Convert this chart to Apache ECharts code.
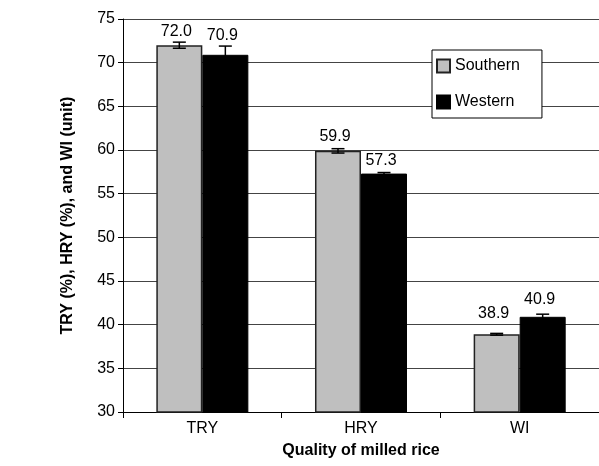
<!DOCTYPE html>
<html>
<head>
<meta charset="utf-8">
<script src="https://cdn.jsdelivr.net/npm/echarts@6/dist/echarts.min.js"></script>
<style>
html,body{margin:0;padding:0;background:#fff;}
#chart{width:599px;height:466px;}
</style>
</head>
<body>
<div id="chart"></div>
<script>
var categories = ['TRY', 'HRY', 'WI'];
var seriesNames = ['Southern', 'Western'];
var southern = [72.0, 59.9, 38.9];
var western = [70.9, 57.3, 40.9];
var southernErr = [0.35, 0.25, 0.1];
var westernErr = [1.0, 0.12, 0.3];
var yTicks = [30, 35, 40, 45, 50, 55, 60, 65, 70, 75];

var FONT = 'Liberation Sans, Arial, Helvetica, sans-serif';
var CAT_GAP = 0.42;
// label lift (px above error-bar top), styling per series
var LABEL_LIFT = { '-1': [3, 4, 12], '1': [2, 4, 7] };

function errData(vals, errs) {
  return vals.map(function (v, i) { return [i, v, errs[i]]; });
}

function makeErrRender(side) {
  return function (params, api) {
    var idx = api.value(0), v = api.value(1), e = api.value(2);
    var catW = api.size([1, 0])[0];
    var barW = catW * (1 - CAT_GAP) / 2;
    var base = api.coord([idx, v]);
    var x = base[0] + side * barW / 2;
    var top = api.coord([idx, v + e])[1];
    var bot = api.coord([idx, v - e])[1];
    var cap = 6.5;
    var st = { stroke: '#000', lineWidth: 1.5 };
    var lift = LABEL_LIFT[String(side)][params.dataIndex];
    return {
      type: 'group',
      children: [
        { type: 'line', shape: { x1: x, y1: top, x2: x, y2: bot }, style: st },
        { type: 'line', shape: { x1: x - cap, y1: top, x2: x + cap, y2: top }, style: st },
        { type: 'line', shape: { x1: x - cap, y1: bot, x2: x + cap, y2: bot }, style: st },
        { type: 'text', x: x - 3, y: top - lift,
          style: { text: v.toFixed(1), fill: '#000', font: '16px ' + FONT,
                   textAlign: 'center', textVerticalAlign: 'bottom' } }
      ]
    };
  };
}

var chart = echarts.init(document.getElementById('chart'), null, { renderer: 'canvas' });
chart.setOption({
  animation: false,
  backgroundColor: '#fff',
  textStyle: { fontFamily: FONT },
  grid: { left: 123, right: 0, top: 19, bottom: 54 },
  legend: {
    data: seriesNames,
    orient: 'vertical',
    left: 432, top: 50,
    itemWidth: 13, itemHeight: 13, itemGap: 20,
    padding: [8, 22, 8, 4],
    backgroundColor: '#fff',
    borderColor: '#000', borderWidth: 1,
    icon: 'rect',
    textStyle: { fontSize: 16, color: '#000', fontFamily: FONT }
  },
  xAxis: {
    type: 'category',
    data: categories,
    name: 'Quality of milled rice',
    nameLocation: 'middle',
    nameGap: 31,
    nameTextStyle: { fontSize: 16, fontWeight: 'bold', color: '#000', fontFamily: FONT },
    axisLine: { lineStyle: { color: '#000', width: 1 } },
    axisTick: { show: true, length: 6, lineStyle: { color: '#000' } },
    axisLabel: { fontSize: 16, color: '#000', margin: 9, fontFamily: FONT }
  },
  yAxis: {
    type: 'value',
    min: yTicks[0], max: yTicks[yTicks.length - 1], interval: 5,
    name: 'TRY (%), HRY (%), and WI (unit)',
    nameLocation: 'middle',
    nameGap: 47,
    nameTextStyle: { fontSize: 16, fontWeight: 'bold', color: '#000', fontFamily: FONT },
    axisLine: { show: true, lineStyle: { color: '#000', width: 1 } },
    axisTick: { show: true, length: 5, lineStyle: { color: '#000' } },
    axisLabel: { fontSize: 16, color: '#000', margin: 8, fontFamily: FONT },
    splitLine: { show: true, lineStyle: { color: '#444', width: 1 } }
  },
  series: [
    {
      name: seriesNames[0], type: 'bar', data: southern,
      barGap: '0%', barCategoryGap: (CAT_GAP * 100) + '%',
      itemStyle: { color: '#bfbfbf', borderColor: '#222', borderWidth: 1.5 }
    },
    {
      name: seriesNames[1], type: 'bar', data: western,
      barGap: '0%', barCategoryGap: (CAT_GAP * 100) + '%',
      itemStyle: { color: '#000', borderColor: '#000', borderWidth: 1 }
    },
    {
      type: 'custom', z: 5, data: errData(southern, southernErr),
      encode: { x: 0, y: 1 }, renderItem: makeErrRender(-1)
    },
    {
      type: 'custom', z: 5, data: errData(western, westernErr),
      encode: { x: 0, y: 1 }, renderItem: makeErrRender(1)
    }
  ]
});
</script>
</body>
</html>
